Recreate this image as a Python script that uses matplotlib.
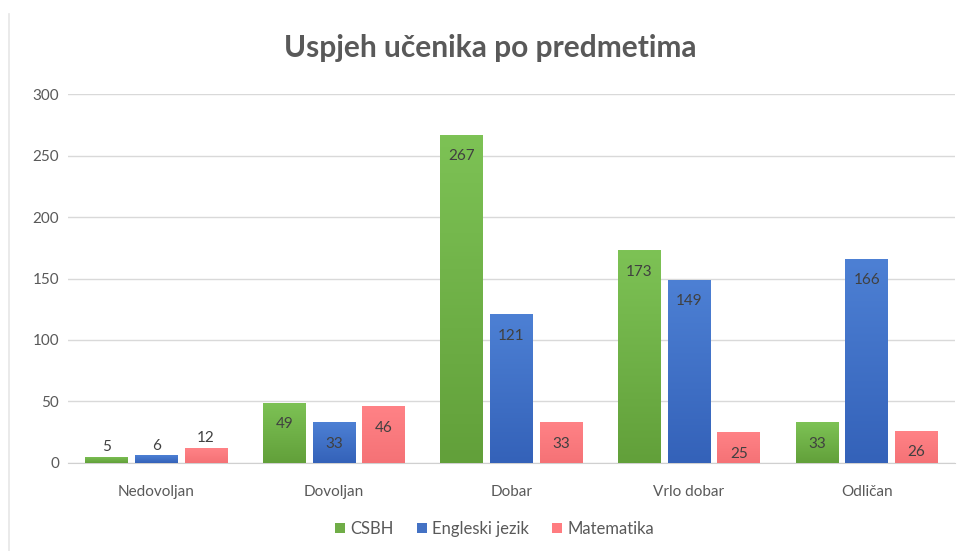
import numpy as np
import matplotlib
matplotlib.use("Agg")
import matplotlib.pyplot as plt
from matplotlib.lines import Line2D
from matplotlib.colors import LinearSegmentedColormap

plt.rcParams['font.family'] = ['Lato', 'DejaVu Sans']

categories = ["Nedovoljan", "Dovoljan", "Dobar", "Vrlo dobar", "Odličan"]
series_names = ["CSBH", "Engleski jezik", "Matematika"]
csbh = [5, 49, 267, 173, 33]
engleski = [6, 33, 121, 149, 166]
matematika = [12, 46, 33, 25, 26]
y_ticks = [0, 50, 100, 150, 200, 250, 300]

colors = ["#70ad47", "#4472c4", "#ff7c80"]
# light (top) -> dark (bottom) shades for the gradient fill
shades = [("#7dc255", "#62a03a"), ("#4d80d4", "#3462b9"), ("#ff8286", "#f57276")]
series = [csbh, engleski, matematika]

fig = plt.figure(figsize=(9.66, 5.51), dpi=100)
ax = fig.add_axes([0.070, 0.160, 0.919, 0.669])

x = np.arange(len(categories))
width = 0.24
offsets = [-0.28, 0, 0.28]

ax.set_xlim(-0.5, len(categories) - 0.5)
ax.set_ylim(0, 300)

for vals, col, shade, off, name in zip(series, colors, shades, offsets, series_names):
    bars = ax.bar(x + off, vals, width, color=col, label=name, zorder=3, linewidth=0)
    cmap = LinearSegmentedColormap.from_list("g", [shade[1], shade[0]])
    for b in bars:
        bx, by = b.get_x(), b.get_y()
        bw, bh = b.get_width(), b.get_height()
        grad = np.linspace(0, 1, 100).reshape(-1, 1)
        im = ax.imshow(grad, cmap=cmap, aspect="auto", origin="lower",
                       extent=(bx, bx + bw, by, by + bh), zorder=3.5)
        im.set_clip_path(b)
    for xi, v in zip(x + off, vals):
        if v < 20:
            ax.annotate(str(v), (xi, v), xytext=(0, 2), textcoords="offset points",
                        ha="center", va="bottom", fontsize=11, color="#404040", zorder=5)
        else:
            ax.annotate(str(v), (xi, v), xytext=(0, -15.5), textcoords="offset points",
                        ha="center", va="center", fontsize=11, color="#404040", zorder=5)

ax.set_xlim(-0.5, len(categories) - 0.5)
ax.set_ylim(0, 300)
ax.set_yticks(y_ticks)
ax.set_xticks(x)
ax.set_xticklabels(categories, fontsize=11, color="#595959")
ax.tick_params(axis="y", labelsize=11, labelcolor="#595959", length=0, pad=6)
ax.tick_params(axis="x", length=0, pad=16)
ax.grid(axis="y", color="#d9d9d9", linewidth=1, zorder=0)
for s in ["top", "right", "left"]:
    ax.spines[s].set_visible(False)
ax.spines["bottom"].set_color("#d0d0d0")

fig.text(0.508, 0.912, "Uspjeh učenika po predmetima", ha="center", va="center",
         fontsize=21.5, fontweight="bold", color="#595959")

leg = fig.legend(loc="center", bbox_to_anchor=(0.512, 0.040), ncol=3, frameon=False,
                 fontsize=12, handlelength=0.6, handleheight=0.6, handletextpad=0.3,
                 columnspacing=1.4)
for t in leg.get_texts():
    t.set_color("#595959")

fig.add_artist(Line2D([0.009, 0.009], [0.0, 0.975], transform=fig.transFigure,
                      color="#e6e6e6", linewidth=1.2))

fig.savefig("out.png", dpi=100, facecolor="white")
